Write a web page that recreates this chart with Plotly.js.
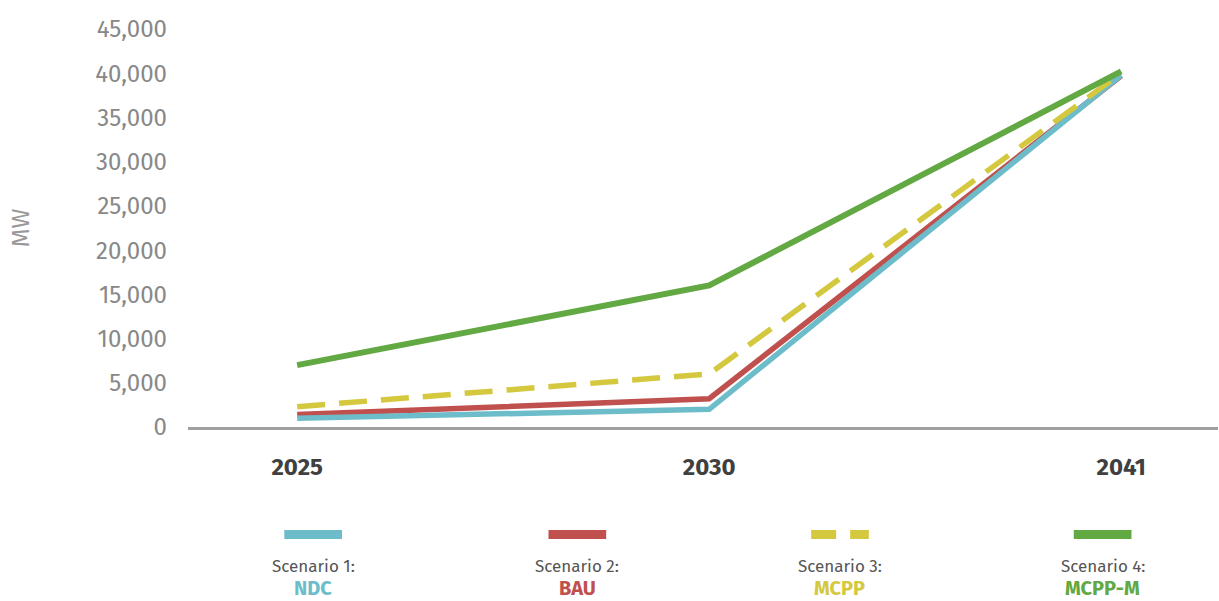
<!DOCTYPE html>
<html>
<head>
<meta charset="utf-8">
<script src="https://cdn.plot.ly/plotly-3.0.1.min.js"></script>
<style>html,body{margin:0;padding:0;background:#fff}#chart{width:1219px;height:601px}</style>
</head>
<body>
<div id="chart"></div>
<script>
const years = ["2025", "2030", "2041"];
const ndc = [1000, 2000, 39800];
const bau = [1400, 3200, 39700];
const mcpp = [2300, 6000, 40000];
const mcppM = [7000, 16000, 40200];
const yTicks = [0, 5000, 10000, 15000, 20000, 25000, 30000, 35000, 40000, 45000];
const scenarioLabels = ["Scenario 1:", "Scenario 2:", "Scenario 3:", "Scenario 4:"];
const scenarioNames = ["NDC", "BAU", "MCPP", "MCPP-M"];
const colors = ["#6cbcc9", "#c0504d", "#d4c83e", "#62a843"];
const dashes = ["solid", "solid", "28px,14px", "solid"];

const series = [ndc, bau, mcpp, mcppM];
const drawOrder = [1, 0, 2, 3];
const traces = drawOrder.map(i => ({
  x: years, y: series[i], type: "scatter", mode: "lines",
  name: scenarioNames[i],
  line: {color: colors[i], width: i === 3 ? 6 : 5.5, dash: dashes[i]},
  showlegend: false, hoverinfo: "skip"
}));

const font = "'Fira Sans', 'Noto Sans', 'Open Sans', sans-serif";
const legendX = [0.1215, 0.378, 0.633, 0.888];
const shapes = [];
const annotations = [];
legendX.forEach((px, i) => {
  shapes.push({type: "line", xref: "paper", yref: "paper",
    x0: px - 0.028, x1: px + 0.028, y0: -0.27, y1: -0.27,
    line: {color: colors[i], width: 9, dash: i === 2 ? "25px,14px" : "solid"}});
  annotations.push({xref: "paper", yref: "paper", x: px, y: -0.35, xanchor: "center", yanchor: "middle",
    text: scenarioLabels[i], showarrow: false, font: {family: font, size: 17, color: "#555555"}});
  annotations.push({xref: "paper", yref: "paper", x: px, y: -0.405, xanchor: "center", yanchor: "middle",
    text: "<b>" + scenarioNames[i] + "</b>", showarrow: false, font: {family: font, size: 20, color: colors[i]}});
});

const layout = {
  width: 1219, height: 601,
  margin: {l: 188, r: 1, t: 29, b: 174},
  paper_bgcolor: "#ffffff", plot_bgcolor: "#ffffff",
  font: {family: font},
  showlegend: false,
  xaxis: {
    type: "category", range: [-0.265, 2.235],
    showgrid: false, zeroline: false,
    showline: true, linecolor: "#a0a0a0", linewidth: 3,
    ticks: "", ticklabelstandoff: 16,
    tickfont: {family: font, size: 24, color: "#404040", weight: "bold"}
  },
  yaxis: {
    range: [0, 45000], tickvals: yTicks,
    tickformat: ",d",
    showgrid: false, zeroline: false, showline: false,
    ticks: "", ticklabelstandoff: 20,
    tickfont: {family: font, size: 24, color: "#888888"},
    title: {text: "MW", standoff: 58, font: {family: font, size: 24, color: "#999999"}}
  },
  shapes: shapes,
  annotations: annotations
};

Plotly.newPlot("chart", traces, layout, {staticPlot: true, displayModeBar: false});
</script>
</body>
</html>
